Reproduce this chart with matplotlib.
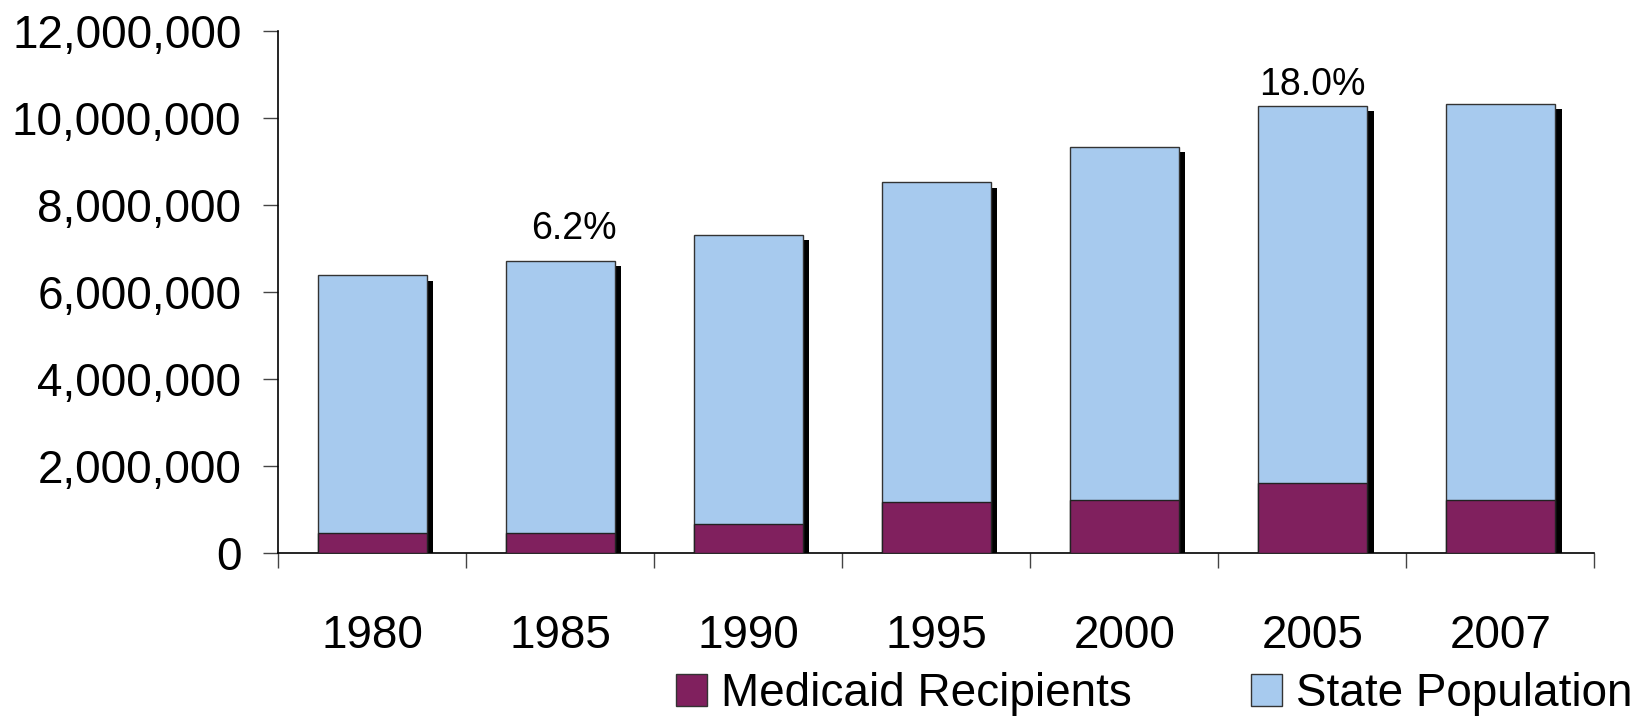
#!/usr/bin/env python3

# %%
# Libraries
import numpy as np
from matplotlib import pyplot as plt
from matplotlib.ticker import FuncFormatter, FixedLocator
from matplotlib.patches import Patch

plt.rcParams['font.family'] = ['Liberation Sans', 'DejaVu Sans']

# %%
# Data
years = ['1980', '1985', '1990', '1995', '2000', '2005', '2007']
state_pop = [6380000, 6720000, 7320000, 8520000, 9340000, 10270000, 10320000]
medicaid = [450000, 450000, 670000, 1180000, 1220000, 1610000, 1220000]
pct_labels = {1: '6.2%', 5: '18.0%'}

blue = '#A7CAEE'
maroon = '#80205E'

# %%
# Figure
fig = plt.figure(figsize=(16.37, 7.21), dpi=100)
ax = fig.add_axes([0.170, 0.233, 0.804, 0.724])

x = np.arange(len(years))
w = 0.58

# drop shadow behind each population bar
ax.bar(x + 0.035, np.array(state_pop) - 120000, width=w, color='black',
       linewidth=0, zorder=1)
ax.bar(x, state_pop, width=w, color=blue, edgecolor='#333333',
       linewidth=1, zorder=2)
ax.bar(x, medicaid, width=w, color=maroon, edgecolor='#222222',
       linewidth=1, zorder=3)

for i, txt in pct_labels.items():
    dx, dy = (10, 10) if i == 1 else (0, 2)
    ax.annotate(txt, (x[i], state_pop[i]), xytext=(dx, dy),
                textcoords='offset points', ha='center', va='bottom',
                fontsize=27)

# %%
# Axes styling
ax.set_xlim(-0.5, len(years) - 0.5)
ax.set_ylim(0, 12000000)
ax.yaxis.set_major_locator(FixedLocator(np.arange(0, 12000001, 2000000)))
ax.yaxis.set_major_formatter(FuncFormatter(lambda v, p: f'{int(v):,}'))
ax.tick_params(axis='y', direction='out', length=10.5, width=1, pad=16,
               labelsize=33, color='#444444')

ax.set_xticks(x)
ax.set_xticklabels(years)
ax.set_xticks(np.arange(-0.5, len(years)), minor=True)
ax.tick_params(axis='x', which='major', length=0, pad=44, labelsize=33)
ax.tick_params(axis='x', which='minor', direction='out', length=11, width=1,
               color='#444444')

for s in ['top', 'right']:
    ax.spines[s].set_visible(False)
ax.spines['left'].set_linewidth(1.2)
ax.spines['bottom'].set_linewidth(1.2)

# %%
# Legend
handles = [Patch(facecolor=maroon, edgecolor='#333333', label='Medicaid Recipients'),
           Patch(facecolor=blue, edgecolor='#333333', label='State Population')]
fig.legend(handles=handles, loc='center', bbox_to_anchor=(0.705, 0.037),
           ncol=2, frameon=False, fontsize=33, handlelength=0.68,
           handleheight=0.7, handletextpad=0.3, columnspacing=2.6,
           borderpad=0, borderaxespad=0)

fig.savefig('out.png', dpi=100)
